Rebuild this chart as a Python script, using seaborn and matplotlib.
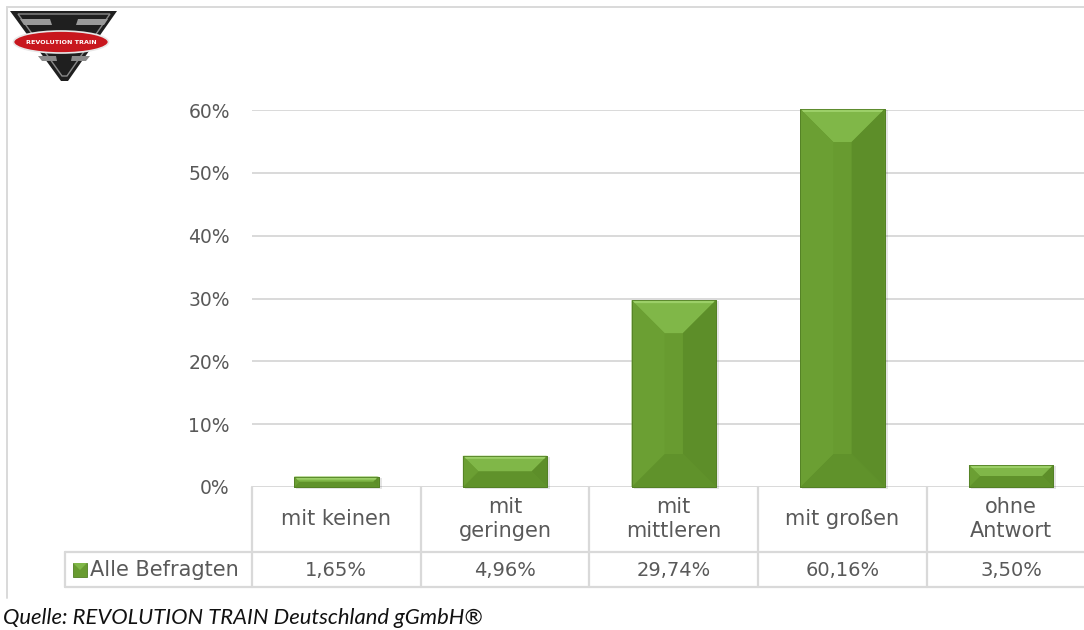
import matplotlib
matplotlib.use("Agg")
import matplotlib.pyplot as plt
import matplotlib.transforms as mtransforms
from matplotlib.patches import Polygon, Rectangle, Ellipse
from matplotlib.lines import Line2D
import seaborn as sns
import pandas as pd

# ---------------- data ----------------
categories = ["mit keinen", "mit\ngeringen", "mit\nmittleren", "mit großen", "ohne\nAntwort"]
values = [1.65, 4.96, 29.74, 60.16, 3.50]
value_labels = ["1,65%", "4,96%", "29,74%", "60,16%", "3,50%"]
series_name = "Alle Befragten"
yticks = [0, 10, 20, 30, 40, 50, 60]
ytick_labels = ["0%", "10%", "20%", "30%", "40%", "50%", "60%"]
source_text = "Quelle: REVOLUTION TRAIN Deutschland gGmbH®"
logo_text = "REVOLUTION TRAIN"

# ---------------- styling ----------------
W, H = 1084, 630
TEXT = "#595959"
GRID = "#d9d9d9"
C_BODY = "#689b30"
C_TOP = "#80b748"
C_LEFT = "#6b9f33"
C_RIGHT = "#5d8e29"
C_BOTTOM = "#60922b"
C_EDGE = "#527f24"

sns.set_theme(style="white")
plt.rcParams["font.family"] = ["DejaVu Sans"]

fig = plt.figure(figsize=(W / 100, H / 100), dpi=100)
fig.patch.set_facecolor("white")


def fx(x):
    return x / W


def fy(y):
    return 1 - y / H


ax = fig.add_axes([fx(252), fy(487), (1095.5 - 252) / W, (487 - 110) / H])
df = pd.DataFrame({"cat": categories, "val": values})
sns.barplot(data=df, x="cat", y="val", color=C_BODY, saturation=1, width=0.5,
            ax=ax, zorder=3)
ax.set_xlim(-0.5, 4.5)
ax.set_ylim(0, 60)
ax.set_yticks(yticks)
ax.set_yticklabels(ytick_labels, fontsize=13.5, color=TEXT)
ax.set_xticks([])
ax.set_xlabel("")
ax.set_ylabel("")
ax.tick_params(axis="y", length=0, pad=16)
ax.yaxis.grid(True, color=GRID, lw=1.4)
ax.set_axisbelow(True)
for s in ax.spines.values():
    s.set_visible(False)
ax.patch.set_alpha(0)

# ---------------- bevel effect on bars ----------------
inv = ax.transData.inverted()
for p in list(ax.patches):
    x0, y0 = p.get_x(), p.get_y()
    w, h = p.get_width(), p.get_height()
    (L, B) = ax.transData.transform((x0, y0))
    (R, T) = ax.transData.transform((x0 + w, y0 + h))
    d = min(33.0, (R - L) / 2, (T - B) / 2)
    Li, Ri, Bi, Ti = L + d, R - d, B + d, T - d
    p.set_clip_on(False)
    p.set_edgecolor(C_EDGE)
    p.set_linewidth(0.6)
    # soft shadow
    sh = inv.transform([(L + 2, B - 2), (R + 3, B - 2), (R + 3, T - 1), (L + 2, T - 1)])
    ax.add_patch(Polygon(sh, closed=True, facecolor="#000000", alpha=0.10,
                         lw=0, zorder=2, clip_on=False))
    faces = [
        ([(L, T), (R, T), (Ri, Ti), (Li, Ti)], C_TOP),
        ([(L, B), (R, B), (Ri, Bi), (Li, Bi)], C_BOTTOM),
        ([(L, T), (Li, Ti), (Li, Bi), (L, B)], C_LEFT),
        ([(R, T), (Ri, Ti), (Ri, Bi), (R, B)], C_RIGHT),
    ]
    for pts, col in faces:
        ax.add_patch(Polygon(inv.transform(pts), closed=True, facecolor=col,
                             lw=0, zorder=4, clip_on=False))
    # lighter highlight along the top edge
    hl = inv.transform([(L + 1, T), (R - 1, T), (R - 3, T - 3), (L + 3, T - 3)])
    ax.add_patch(Polygon(hl, closed=True, facecolor="#9ccf68", lw=0, zorder=4.5,
                         clip_on=False))
    ax.add_patch(Polygon(inv.transform([(L, B), (R, B), (R, T), (L, T)]), closed=True,
                         facecolor="none", edgecolor=C_EDGE, lw=0.6, zorder=5,
                         clip_on=False))

# ---------------- data table ----------------
trans = mtransforms.blended_transform_factory(ax.transData, fig.transFigure)
n = len(categories)
row_top, row_mid, row_bot = fy(487), fy(552), fy(587)
lw_t = 1.6
for i in range(n + 1):
    fig.add_artist(Line2D([i - 0.5, i - 0.5], [row_top, row_bot], transform=trans,
                          color=GRID, lw=lw_t))
fig.add_artist(Line2D([fx(65), 1.0], [row_mid, row_mid], transform=fig.transFigure,
                      color=GRID, lw=lw_t))
fig.add_artist(Line2D([fx(65), 1.0], [row_bot, row_bot], transform=fig.transFigure,
                      color=GRID, lw=lw_t))
fig.add_artist(Line2D([fx(65), fx(65)], [row_mid, row_bot], transform=fig.transFigure,
                      color=GRID, lw=lw_t))

for i, (cat, vl) in enumerate(zip(categories, value_labels)):
    fig.text(i, fy(519), cat, transform=trans, ha="center", va="center",
             fontsize=15, color=TEXT, linespacing=1.25)
    fig.text(i, fy(570), vl, transform=trans, ha="center", va="center",
             fontsize=14, color=TEXT)

# legend key
kx0, kx1, ky0, ky1 = fx(73), fx(87), fy(577), fy(563)
fig.add_artist(Rectangle((kx0, ky0), kx1 - kx0, ky1 - ky0, transform=fig.transFigure,
                         facecolor=C_BODY, edgecolor=C_EDGE, lw=0.6))
fig.add_artist(Polygon([(kx0, ky1), (kx1, ky1), ((kx0 + kx1) / 2, (ky0 + ky1) / 2)],
                       closed=True, transform=fig.transFigure, facecolor=C_TOP, lw=0))
fig.text(fx(90), fy(570), series_name, ha="left", va="center", fontsize=15, color=TEXT)

# ---------------- outer frame ----------------
fig.add_artist(Line2D([fx(7), fx(7)], [fy(7), fy(598)], transform=fig.transFigure,
                      color=GRID, lw=1.4))
fig.add_artist(Line2D([fx(7), 1.0], [fy(7), fy(7)], transform=fig.transFigure,
                      color=GRID, lw=1.4))

# ---------------- source ----------------
fig.text(fx(3), fy(618), source_text, ha="left", va="center", fontsize=15.8,
         style="italic", color="#111111", family=["Lato", "DejaVu Sans"])

# ---------------- logo ----------------
def poly(pts, **kw):
    fig.add_artist(Polygon([(fx(x), fy(y)) for x, y in pts], closed=True,
                           transform=fig.transFigure, **kw))


poly([(10, 11), (117, 11), (68, 81), (61, 81)], facecolor="#1f1f1f", lw=0)
poly([(18, 14), (110, 14), (67, 76), (62, 76)], facecolor="none", edgecolor="#8a8a8a", lw=1.0)
poly([(20, 19), (50, 19), (52, 25), (24, 25)], facecolor="#9a9a9a", lw=0)
poly([(78, 19), (108, 19), (104, 25), (76, 25)], facecolor="#9a9a9a", lw=0)
poly([(38, 56), (56, 56), (57, 61), (42, 61)], facecolor="#8a8a8a", lw=0)
poly([(72, 56), (90, 56), (86, 61), (71, 61)], facecolor="#8a8a8a", lw=0)
fig.add_artist(Ellipse((fx(61), fy(42)), 95 / W, 22 / H, transform=fig.transFigure,
                       facecolor="#c8171e", edgecolor="#e8e8e8", lw=1.2))
fig.text(fx(61), fy(42), logo_text, ha="center", va="center", fontsize=4.6,
         color="white", fontweight="bold")

fig.savefig("out.png", dpi=100, facecolor="white")
